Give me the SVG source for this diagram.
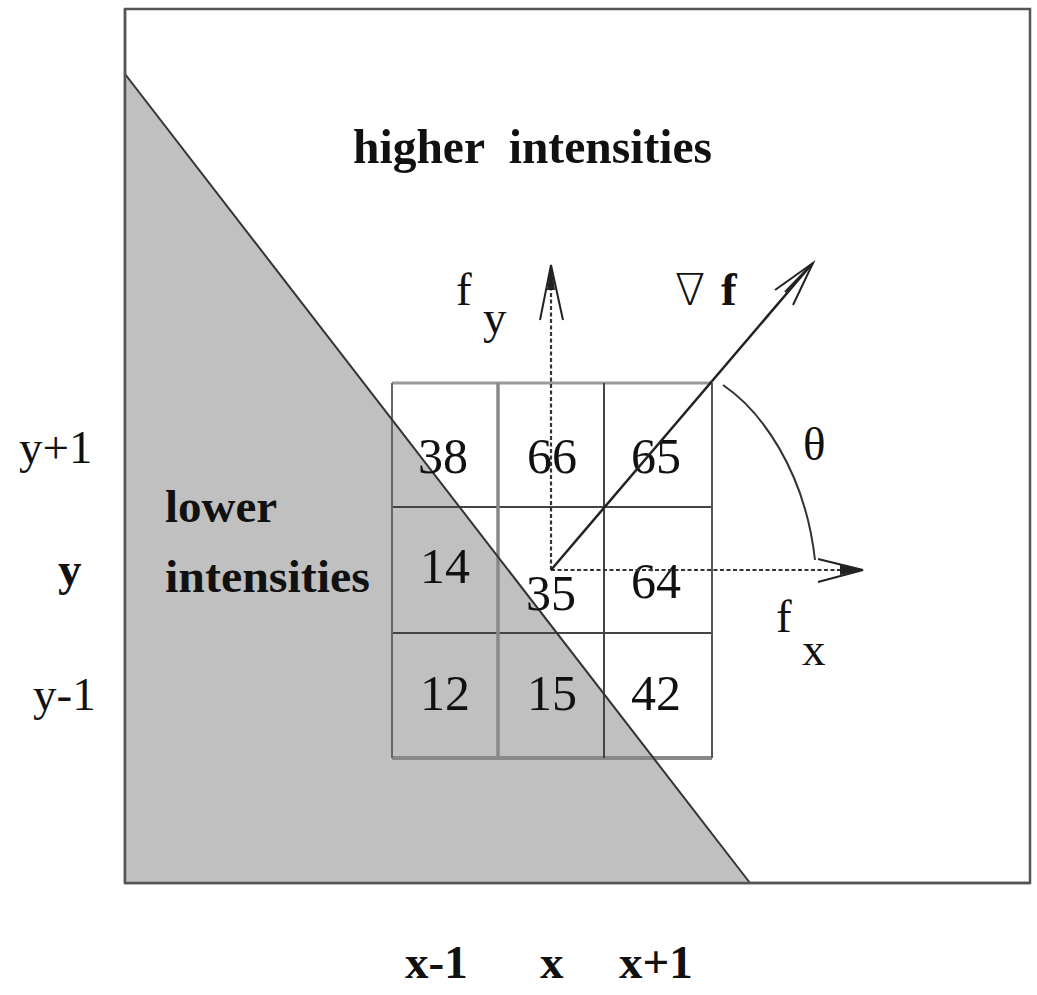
<svg xmlns="http://www.w3.org/2000/svg" width="1037" height="995" viewBox="0 0 1037 995">
<style>
.t{font-family:"Liberation Serif","Times New Roman",serif;fill:#111}
.b{font-weight:bold}
.num{font-size:50px}
.lbl{font-size:47px}
.dash{stroke:#333;stroke-width:2.2;stroke-dasharray:4,2.5;fill:none}
.head{stroke:#222;stroke-width:2;fill:none;stroke-linejoin:miter}
</style>
<rect x="0" y="0" width="1037" height="995" fill="#fff"/>
<g id="frame">
<rect x="125" y="9" width="905" height="874" fill="#fff" stroke="#555" stroke-width="2.5"/>
</g>
<g id="lower-region">
<polygon points="125,74 750,883 125,883" fill="#c0c0c0"/>
</g>
<g id="grid">
<line x1="392" y1="383" x2="712" y2="383" stroke="#999" stroke-width="3"/>
<line x1="392" y1="758" x2="712" y2="758" stroke="#888" stroke-width="4"/>
<line x1="392" y1="507" x2="712" y2="507" stroke="#444" stroke-width="2"/>
<line x1="392" y1="633" x2="712" y2="633" stroke="#444" stroke-width="2"/>
<line x1="392" y1="383" x2="392" y2="758" stroke="#666" stroke-width="2"/>
<line x1="498" y1="383" x2="498" y2="758" stroke="#888" stroke-width="3.5"/>
<line x1="604" y1="383" x2="604" y2="758" stroke="#444" stroke-width="2"/>
<line x1="712" y1="383" x2="712" y2="758" stroke="#555" stroke-width="2"/>
</g>
<g id="boundary">
<line x1="125" y1="74" x2="750" y2="883" stroke="#333" stroke-width="2"/>
<line x1="125" y1="9" x2="125" y2="883" stroke="#555" stroke-width="2.5"/>
<line x1="125" y1="883" x2="1030" y2="883" stroke="#555" stroke-width="2.5"/>
</g>
<g id="values" class="t num">
<text x="418" y="473">38</text>
<text x="527" y="473">66</text>
<text x="631" y="473">65</text>
<text x="420" y="583">14</text>
<text x="526" y="610">35</text>
<text x="631" y="598">64</text>
<text x="420" y="710">12</text>
<text x="527" y="710">15</text>
<text x="631" y="710">42</text>
</g>
<g id="connectors">
<line class="dash" x1="551" y1="570" x2="551" y2="268"/>
<path class="head" d="M540,320 L551,265 L563,320"/>
<polygon points="551,265 547,290 555,290" fill="#222"/>
<line class="dash" x1="551" y1="570" x2="860" y2="570"/>
<path class="head" d="M818,559 L863,570 L818,582"/>
<polygon points="863,570 840,565 840,575" fill="#222"/>
<line x1="551" y1="570" x2="811" y2="265" stroke="#222" stroke-width="2.5"/>
<path class="head" d="M775,290 L813,263 L793,305"/>
<path class="head" d="M785,292 L813,263" stroke-width="1.5"/>
<path d="M723,385 C760,410 805,470 815,560" fill="none" stroke="#333" stroke-width="2"/>
</g>
<g id="labels" class="t">
<text class="b" x="353" y="163" font-size="49" textLength="359" lengthAdjust="spacingAndGlyphs">higher&#160; intensities</text>
<text class="b lbl" x="165" y="522">lower</text>
<text class="b lbl" x="165" y="592" textLength="205" lengthAdjust="spacingAndGlyphs">intensities</text>
<text class="lbl" x="19" y="463">y+1</text>
<text class="lbl b" x="58" y="585">y</text>
<text class="lbl" x="33" y="710">y-1</text>
<text class="lbl b" x="405" y="978">x-1</text>
<text class="lbl b" x="540" y="978">x</text>
<text class="lbl b" x="619" y="978">x+1</text>
<text x="456" y="305" font-size="47">f</text>
<text x="483" y="333" font-size="47">y</text>
<text x="675" y="305" font-size="44" style="font-family:'DejaVu Sans',sans-serif;font-weight:200">∇</text>
<text class="b" x="721" y="305" font-size="47">f</text>
<text x="803" y="460" font-size="47">θ</text>
<text x="776" y="632" font-size="47">f</text>
<text x="802" y="665" font-size="47">x</text>
</g>
</svg>
